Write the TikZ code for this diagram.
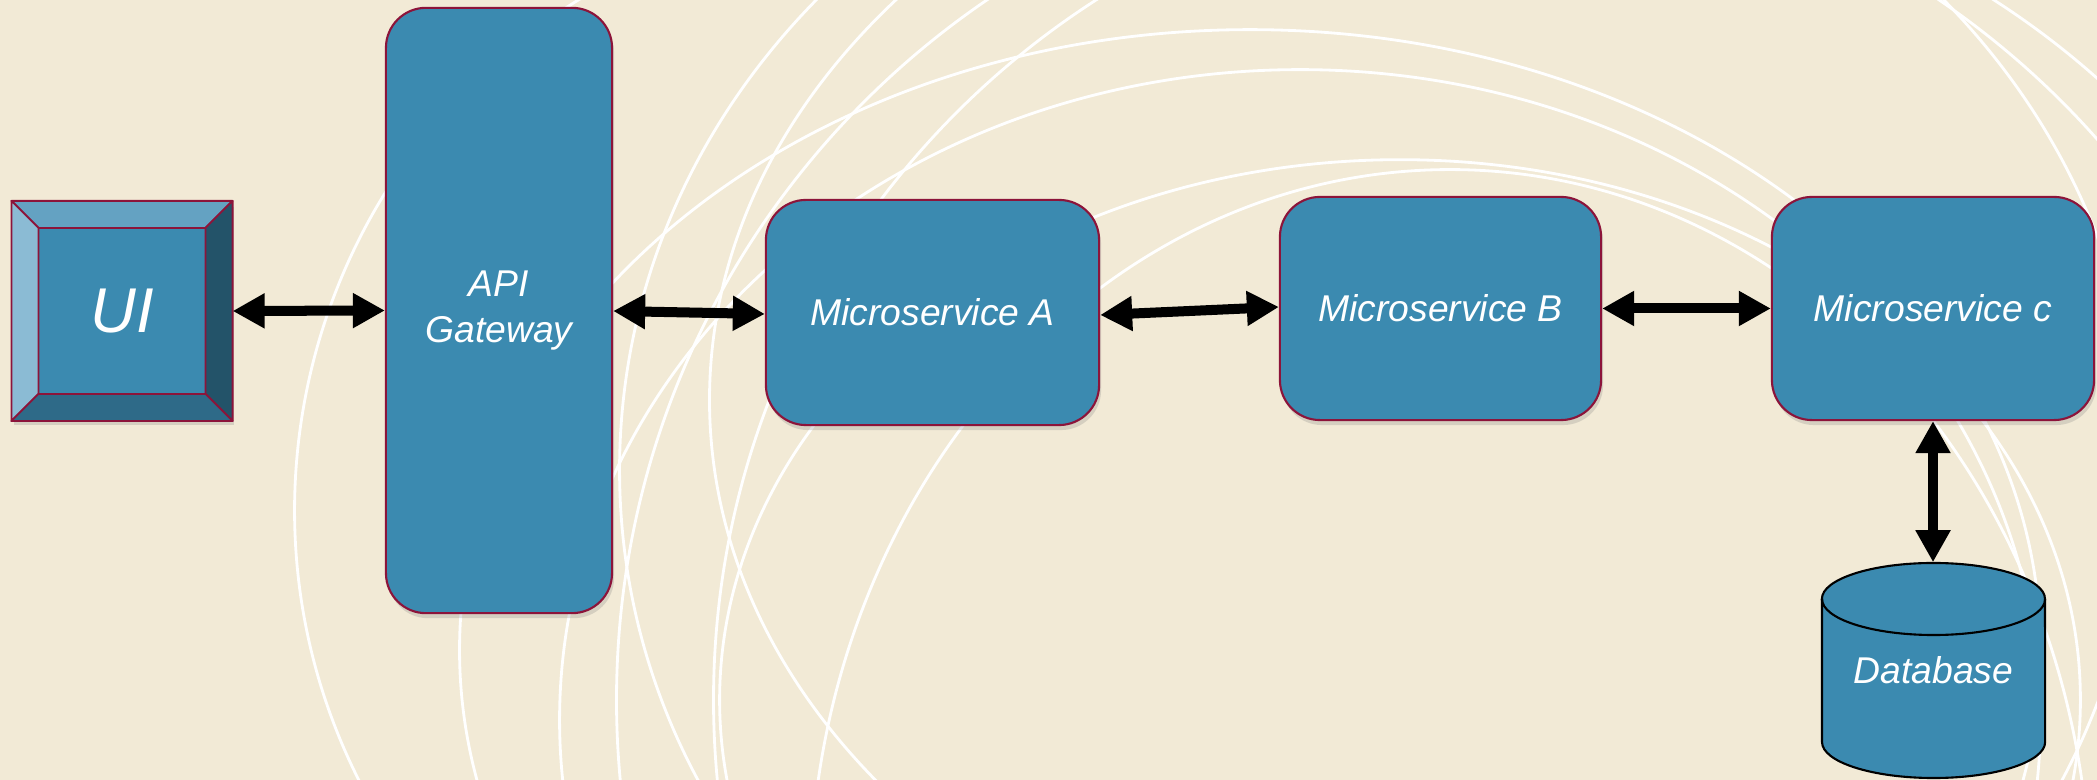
\documentclass[tikz,border=0pt]{standalone}
\usepackage{fontspec}
\setmainfont{Liberation Sans}
\usetikzlibrary{arrows.meta,shadows,calc}
\definecolor{bgc}{RGB}{242,234,214}
\definecolor{boxc}{RGB}{59,138,176}
\definecolor{edgec}{RGB}{140,20,58}
\definecolor{bevtop}{RGB}{100,162,194}
\definecolor{bevleft}{RGB}{139,187,212}
\definecolor{bevright}{RGB}{35,83,105}
\definecolor{bevbot}{RGB}{46,106,136}
\begin{document}
\begin{tikzpicture}[x=0.01cm,y=-0.01cm,
  shad/.style={drop shadow={shadow xshift=0.02cm, shadow yshift=-0.05cm, opacity=0.25}},
  svc/.style={draw=edgec, line width=0.6pt, fill=boxc, rounded corners=0.4cm, text=white,
    font=\fontsize{10.6}{13.2}\selectfont\itshape, align=center, inner sep=0pt, shad},
  bevel/.style={draw=edgec, line width=0.5pt, line join=round},
  link/.style={line width=0.1cm, {Triangle[length=0.32cm,width=0.33cm]}-{Triangle[length=0.32cm,width=0.33cm]}},
  deco/.style={draw=white, line width=0.8pt}]
\fill[bgc] (0,0) rectangle (2097,780);
\useasboundingbox (0,0) rectangle (2097,780);
\begin{scope}
\clip (0,0) rectangle (2097,780);
\draw[deco] (895,510) ++(121:6cm) arc[start angle=121, end angle=250, radius=6cm];
\draw[deco] (1250,650) ellipse[x radius=7.9cm, y radius=6.2cm];
\draw[deco] (1300,720) ellipse[x radius=7.4cm, y radius=6.5cm];
\draw[deco] (1380,470) ellipse[x radius=7.6cm, y radius=7.0cm];
\draw[deco] (1400,700) ellipse[x radius=6.8cm, y radius=5.4cm];
\draw[deco] (1560,400) ellipse[x radius=8.5cm, y radius=6.4cm];
\draw[deco] (1450,900) ellipse[x radius=6.4cm, y radius=7.3cm];
\draw[deco] (1463,700) circle[radius=8.46cm];
\draw[deco] (1545,700) circle[radius=8.31cm];
\end{scope}

% UI bevelled box
\node[draw=edgec, line width=0.6pt, fill=boxc, minimum width=2.19cm, minimum height=2.18cm,
  inner sep=0pt, shad, text=white, font=\fontsize{18}{20}\selectfont\itshape] (ui) at (122,311) {UI};
\filldraw[bevel, fill=bevtop] (ui.north west) -- (ui.north east) -- ([shift={(-0.27cm,-0.27cm)}]ui.north east) -- ([shift={(0.27cm,-0.27cm)}]ui.north west) -- cycle;
\filldraw[bevel, fill=bevleft] (ui.north west) -- ([shift={(0.27cm,-0.27cm)}]ui.north west) -- ([shift={(0.27cm,0.27cm)}]ui.south west) -- (ui.south west) -- cycle;
\filldraw[bevel, fill=bevright] (ui.north east) -- (ui.south east) -- ([shift={(-0.27cm,0.27cm)}]ui.south east) -- ([shift={(-0.27cm,-0.27cm)}]ui.north east) -- cycle;
\filldraw[bevel, fill=bevbot] (ui.south west) -- ([shift={(0.27cm,0.27cm)}]ui.south west) -- ([shift={(-0.27cm,0.27cm)}]ui.south east) -- (ui.south east) -- cycle;

% services
\node[svc, minimum width=2.26cm, minimum height=6.05cm] (gw) at (499,310.5) {API\\Gateway};
\node[svc, minimum width=3.33cm, minimum height=2.25cm] (ma) at (932.5,312.5) {Microservice A};
\node[svc, minimum width=3.21cm, minimum height=2.23cm] (mb) at (1440.5,308.5) {Microservice B};
\node[svc, minimum width=3.22cm, minimum height=2.23cm] (mc) at (1933,308.5) {Microservice c};

% database cylinder
\filldraw[fill=boxc, draw=black, line width=0.6pt] (1822,599) -- (1822,742)
  arc[start angle=180, end angle=360, x radius=1.115cm, y radius=0.36cm] -- (2045,599)
  arc[start angle=0, end angle=180, x radius=1.115cm, y radius=0.36cm] -- cycle;
\draw[black, line width=0.6pt] (1822,599) arc[start angle=180, end angle=360, x radius=1.115cm, y radius=0.36cm];
\node[minimum width=2.23cm, minimum height=2.15cm, inner sep=0pt, text=white,
  font=\fontsize{10.6}{13.2}\selectfont\itshape] (db) at (1933.5,670.5) {Database};

% connectors
\draw[link] (ui.east) -- (gw.west);
\draw[link] ([yshift=-0.005cm]gw.east) -- ([yshift=-0.015cm]ma.west);
\draw[link] ([yshift=-0.025cm]ma.east) -- ([yshift=0.015cm]mb.west);
\draw[link] (mb.east) -- (mc.west);
\draw[link] (mc.south) -- (mc.south |- db.north);
\end{tikzpicture}
\end{document}
